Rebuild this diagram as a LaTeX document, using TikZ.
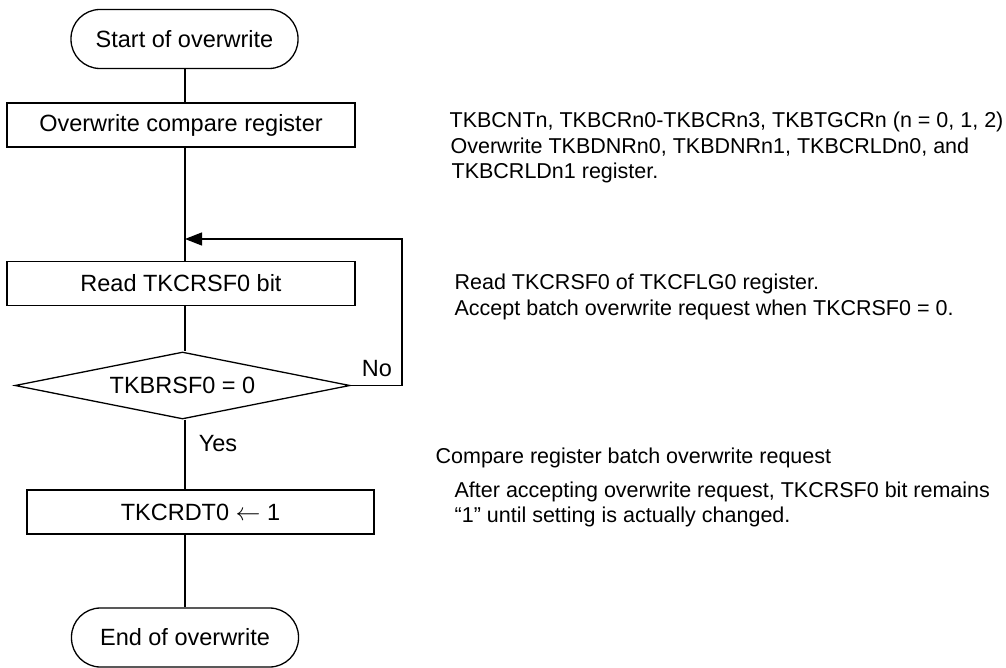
\documentclass[tikz,border=0pt]{standalone}
\usepackage{fontspec}
\setmainfont{Liberation Sans}
\usetikzlibrary{arrows.meta,shapes.geometric}
\begin{document}
\begin{tikzpicture}[x=1pt,y=-1pt,line width=1.3pt,
  every node/.style={inner sep=0pt},
  term/.style={draw, rectangle, rounded corners=29pt, minimum width=227pt, minimum height=59pt, font=\fontsize{23.5}{28}\selectfont},
  proc/.style={draw, rectangle, minimum height=44pt, font=\fontsize{23.5}{28}\selectfont},
  dec/.style={draw, diamond, aspect=5, minimum width=335pt, minimum height=67pt, font=\fontsize{23.5}{28}\selectfont},
  note/.style={anchor=base west, font=\fontsize{21.5}{25}\selectfont},
  lbl/.style={font=\fontsize{23.5}{28}\selectfont},
  loop/.style={-{Triangle[length=17pt,width=13pt]}}]
\useasboundingbox (0,0) rectangle (1006,668);
\coordinate (cx) at (185,0);
\coordinate (loopR) at (402,0);
\coordinate (join) at (185,239);
\node[term] (start) at (184.5,39) {Start of overwrite};
\node[proc, minimum width=348pt] (ow) at (181,125) {Overwrite compare register};
\node[proc, minimum width=348pt] (rd) at (181,283.5) {Read TKCRSF0 bit};
\node[dec] (chk) at (182.5,385.5) {\raisebox{-5pt}{TKBRSF0 = 0}};
\node[proc, minimum width=347pt] (set) at (200.5,512) {TKCRDT0 $\leftarrow$ 1};
\node[term] (end) at (185,637.5) {End of overwrite};
\draw (start.south -| cx) -- (ow.north -| cx);
\draw (ow.south -| cx) -- (rd.north -| cx);
\draw (rd.south -| cx) -- (chk.north -| cx);
\draw (chk.south -| cx) -- (set.north -| cx);
\draw (set.south -| cx) -- (end.north -| cx);
\draw[loop] (chk.east) -- (chk.east -| loopR) -- (join -| loopR) -- (join);
\node[lbl] (yes) at (218,444) {Yes};
\node[lbl] (no) at (377,369) {No};
\node[note] (n1a) at (449,128) {TKBCNTn, TKBCRn0-TKBCRn3, TKBTGCRn (n = 0, 1, 2)};
\node[note] (n1b) at (450,154) {Overwrite TKBDNRn0, TKBDNRn1, TKBCRLDn0, and};
\node[note] (n1c) at (451,179) {TKBCRLDn1 register.};
\node[note] (n2a) at (454,289) {Read TKCRSF0 of TKCFLG0 register.};
\node[note] (n2b) at (454,315) {Accept batch overwrite request when TKCRSF0 = 0.};
\node[note] (n3) at (435,463) {Compare register batch overwrite request};
\node[note] (n4a) at (454,497) {After accepting overwrite request, TKCRSF0 bit remains};
\node[note] (n4b) at (454,522) {“1” until setting is actually changed.};
\end{tikzpicture}
\end{document}
